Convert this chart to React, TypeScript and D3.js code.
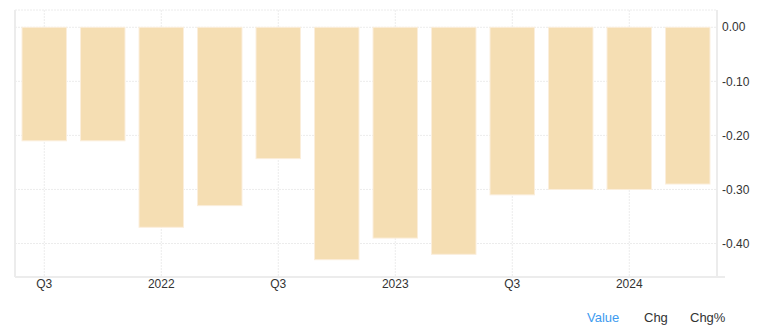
import React from "react";
import * as d3 from "d3";

const quarters = ["Q3 2021","Q4 2021","Q1 2022","Q2 2022","Q3 2022","Q4 2022","Q1 2023","Q2 2023","Q3 2023","Q4 2023","Q1 2024","Q2 2024"];
const values = [-0.21,-0.21,-0.37,-0.33,-0.243,-0.43,-0.39,-0.42,-0.31,-0.30,-0.30,-0.29];
const xTickQuarters = ["Q3 2021","Q1 2022","Q3 2022","Q1 2023","Q3 2023","Q1 2024"];
const xTickLabels = ["Q3","2022","Q3","2023","Q3","2024"];
const yTicks = [0, -0.1, -0.2, -0.3, -0.4];
const legendItems = ["Value","Chg","Chg%"];

const W = 762, H = 334;
const left = 15, right = 717, top = 10, bottom = 277;

export default function App() {
  const x = d3.scaleBand<string>().domain(quarters).range([left, right]).paddingInner(0.24).paddingOuter(0.12);
  const y = d3.scaleLinear().domain([0.032, -0.462]).range([top, bottom]);
  const gridColor = "#ececec";
  const font = "Arial, 'Liberation Sans', sans-serif";
  const legendX = [587, 644, 690];
  return (
    <svg width={W} height={H} style={{ position: "absolute", left: 0, top: 0, background: "#fff" }}>
      <line x1={left} x2={right} y1={top} y2={top} stroke={gridColor} strokeDasharray="2,1" />
      {yTicks.map((t) => (
        <line key={"h" + t} x1={left} x2={right} y1={y(t)} y2={y(t)} stroke={gridColor} strokeDasharray="2,1" />
      ))}
      {xTickQuarters.map((q) => {
        const cx = (x(q) as number) + x.bandwidth() / 2;
        return <line key={"v" + q} x1={cx} x2={cx} y1={top} y2={bottom} stroke={gridColor} strokeDasharray="2,1" />;
      })}
      {quarters.map((q, i) => {
        const v = values[i];
        const y0 = y(0), y1 = y(v);
        return (
          <rect key={q} x={x(q) as number} width={x.bandwidth()} y={Math.min(y0, y1)} height={Math.abs(y1 - y0)}
            fill="#f5deb3" stroke="#fbeedb" strokeWidth={1} />
        );
      })}
      <line x1={left} x2={left} y1={top} y2={bottom} stroke="#ececec" strokeWidth={2} />
      <line x1={left} x2={725} y1={bottom} y2={bottom} stroke="#ececec" strokeWidth={2} />
      <line x1={right} x2={right} y1={top} y2={bottom} stroke="#ececec" strokeWidth={2} />
      {yTicks.map((t) => (
        <text key={"yl" + t} x={722} y={y(t)} dy="0.35em" fontSize={12} fontFamily={font} fill="#333">
          {d3.format(".2f")(t).replace("−", "-")}
        </text>
      ))}
      {xTickQuarters.map((q, i) => {
        const cx = (x(q) as number) + x.bandwidth() / 2;
        return (
          <text key={"xl" + q} x={cx} y={284} dy="0.35em" textAnchor="middle" fontSize={12} fontFamily={font} fill="#333">
            {xTickLabels[i]}
          </text>
        );
      })}
      {legendItems.map((l, i) => (
        <text key={l} x={legendX[i]} y={317} dy="0.35em" fontSize={13} fontFamily={font} fill={i === 0 ? "#3d9bf0" : "#333"}>
          {l}
        </text>
      ))}
    </svg>
  );
}
